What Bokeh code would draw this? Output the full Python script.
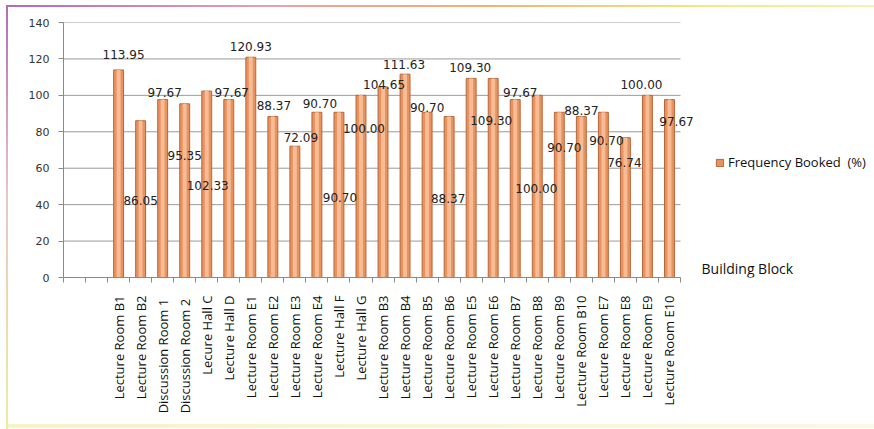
import numpy as np
from bokeh.plotting import figure
from bokeh.models import (ColumnDataSource, FixedTicker, Legend, LegendItem, Label)
from bokeh.core.properties import value
from bokeh.embed import file_html
from bokeh.resources import INLINE

# ---- data ----
categories = ["Lecture Room B1", "Lecture Room B2", "Discussion Room  1", "Discussion Room  2",
              "Lecure Hall C", "Lecture Hall D", "Lecture Room E1", "Lecture Room E2",
              "Lecture Room E3", "Lecture Room E4", "Lecture Hall F", "Lecture Hall G",
              "Lecture Room B3", "Lecture Room B4", "Lecture Room B5", "Lecture Room B6",
              "Lecture Room E5", "Lecture Room E6", "Lecture Room B7", "Lecture Room B8",
              "Lecture Room B9", "Lecture Room B10", "Lecture Room E7", "Lecture Room E8",
              "Lecture Room E9", "Lecture Room E10"]
freq_booked = [113.95, 86.05, 97.67, 95.35, 102.33, 97.67, 120.93, 88.37,
               72.09, 90.70, 90.70, 100.00, 104.65, 111.63, 90.70, 88.37,
               109.30, 109.30, 97.67, 100.00, 90.70, 88.37, 90.70, 76.74,
               100.00, 97.67]
y_ticks = [0, 20, 40, 60, 80, 100, 120, 140]
series_name = "Frequency Booked  (%)"
x_title = "Building Block"

# ---- label placement (screen px, relative to bar top; styling only) ----
label_dx = [5, 0, 2, 0, 1, 3, 0, 1, 6, 3, 1, 3, 1, -1, 0, -1, -1, -2, 5, -1, 5, 0, 3, -1, -6, 7]
label_dy = [-15, 80, -7, 52, 94, -7, -11, -11, -9, -9, 85, 33, -2, -10, -5, 82,
            -11, 42, -7, 93, 35, -6, 28, 25, -11, 22]

n_blank = 2  # empty leading category slots on the axis
n_slots = n_blank + len(categories)
xpos = np.arange(len(categories)) + n_blank + 0.5

# layout: plot area of the categories is 617 px; the frame extends to the right edge
plot_px, frame_px = 617, 811
x_end = n_slots * frame_px / plot_px

src = ColumnDataSource(dict(
    x=xpos, top=freq_booked, cat=categories,
    lab=["%.2f" % v for v in freq_booked],
    dx=label_dx, dy=label_dy,
))

p = figure(frame_width=frame_px, frame_height=255, output_backend="svg", toolbar_location=None,
           x_range=(0, x_end), y_range=(0, 140),
           min_border_left=63, min_border_right=0, min_border_top=22, min_border_bottom=152)
p.background_fill_color = "white"
p.border_fill_alpha = 0
p.outline_line_color = None
# thin gradient frame around the whole chart (page decoration)
p.styles = {
    "background": (
        "linear-gradient(to right, #b36ab8, #e9a0a8 30%, #f2b070 55%, #eeea80 80%, #f4f2b0) 6px 5px / 868px 2px no-repeat, "
        "linear-gradient(to bottom, #b36ab8, #e8c6c8 45%, #f1ec9c) 6px 5px / 2px 424px no-repeat, "
        "linear-gradient(to right, #f6f3c8, #fbf8e4) 6px 424px / 868px 4px no-repeat, "
        "white"
    )
}

# grid (horizontal lines spanning only the category area)
p.xgrid.visible = False
p.ygrid.visible = False
p.segment(x0=0, x1=n_slots, y0=y_ticks, y1=y_ticks, line_color="#9a9a9a", line_width=1)

# bars
bars = p.vbar(x="x", top="top", width=0.45, source=src,
              fill_color="#E8925E", line_color="#B5673B", line_width=1)
p.vbar(x="x", top="top", width=0.18, source=src, fill_color="#F7BC95", line_color=None)

# data labels
p.text(x="x", y="top", text="lab", x_offset="dx", y_offset="dy", source=src,
       text_align="center", text_baseline="middle", text_font=value("DejaVu Sans"),
       text_font_size="12px", text_color="#222222")

# y axis
ya = p.yaxis[0]
ya.ticker = FixedTicker(ticks=y_ticks)
ya.axis_line_color = "#8a8a8a"
ya.major_tick_line_color = "#8a8a8a"
ya.major_tick_out = 5
ya.major_tick_in = 0
ya.minor_tick_line_color = None
ya.major_label_text_font = "DejaVu Sans"
ya.major_label_text_font_size = "11px"
ya.major_label_text_color = "#333333"
ya.major_label_standoff = 9

# x axis
xa = p.xaxis[0]
xa.bounds = (0, n_slots)
xa.ticker = FixedTicker(ticks=list(xpos), minor_ticks=list(range(n_slots + 1)))
xa.major_label_overrides = {float(x): c for x, c in zip(xpos, categories)}
xa.major_label_orientation = np.pi / 2
xa.major_label_text_font = "Open Sans"
xa.major_label_text_font_size = "13px"
xa.major_label_text_color = "#111111"
xa.major_label_standoff = 12
xa.major_tick_line_color = None
xa.minor_tick_line_color = "#8a8a8a"
xa.minor_tick_out = 5
xa.minor_tick_in = 0
xa.axis_line_color = "#8a8a8a"

# x title at the right end of the axis
p.add_layout(Label(x=n_slots, y=0, x_offset=21, y_offset=0, text=x_title,
                   text_font="Open Sans", text_font_size="14px", text_color="#111111",
                   text_baseline="bottom", text_align="left"))

# legend
leg = Legend(items=[LegendItem(label=series_name, renderers=[bars])],
             location=(652, 106), orientation="vertical",
             glyph_width=9, glyph_height=9, label_standoff=4,
             label_text_font="Open Sans", label_text_font_size="13px",
             label_text_color="#111111", border_line_color=None,
             background_fill_alpha=0, padding=0, margin=0)
p.add_layout(leg, "center")

open("out.html", "w").write(file_html(p, INLINE))
